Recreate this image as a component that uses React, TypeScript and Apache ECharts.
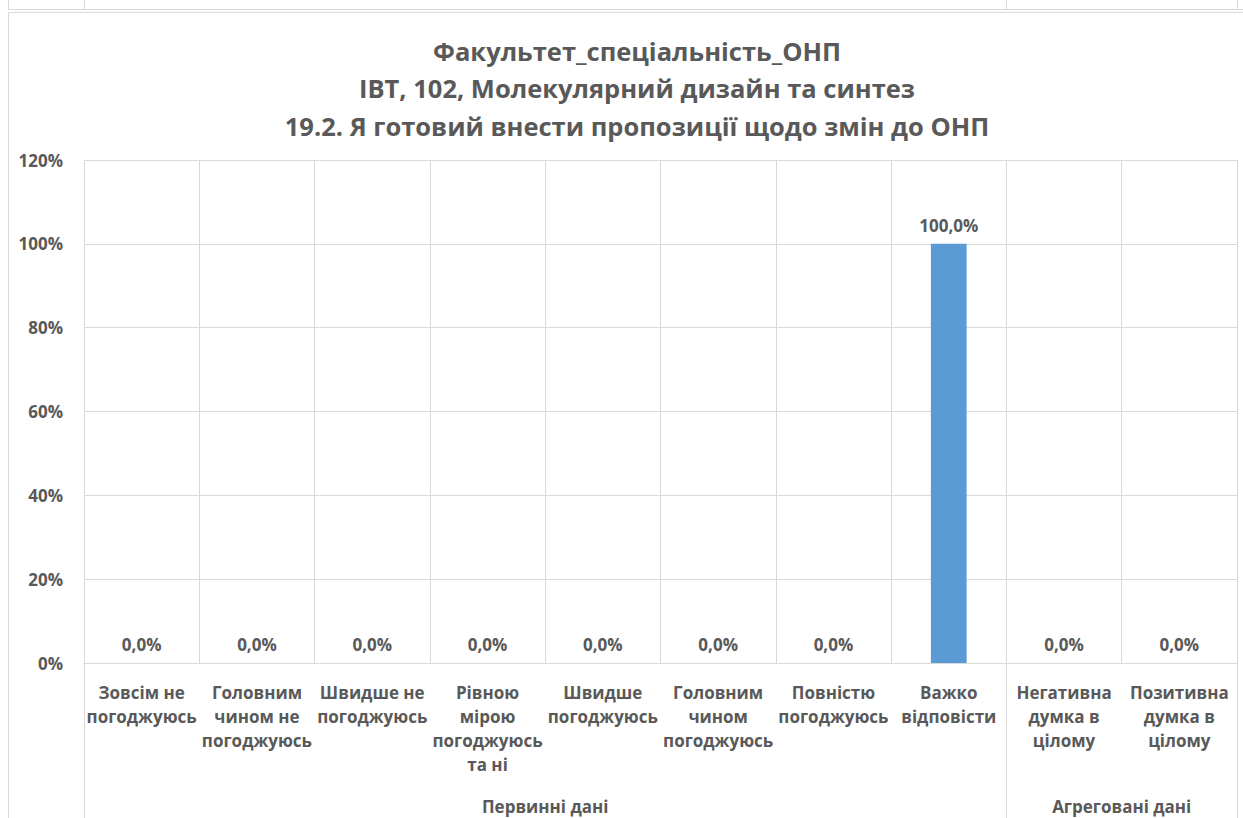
import React, { useEffect, useRef } from 'react';
import * as echarts from 'echarts';

const titleLines = [
  'Факультет_спеціальність_ОНП',
  'ІВТ, 102, Молекулярний дизайн та синтез',
  '19.2. Я готовий внести пропозиції щодо змін до ОНП',
];

const categories = [
  'Зовсім не\nпогоджуюсь',
  'Головним\nчином не\nпогоджуюсь',
  'Швидше не\nпогоджуюсь',
  'Рівною\nмірою\nпогоджуюсь\nта ні',
  'Швидше\nпогоджуюсь',
  'Головним\nчином\nпогоджуюсь',
  'Повністю\nпогоджуюсь',
  'Важко\nвідповісти',
  'Негативна\nдумка в\nцілому',
  'Позитивна\nдумка в\nцілому',
];

const values = [0, 0, 0, 0, 0, 0, 0, 100, 0, 0];

const groupNames = ['Первинні дані', 'Агреговані дані'];
const groupSizes = [8, 2];

const yMin = 0;
const yMax = 120;
const yInterval = 20;

const FONT = '"Open Sans", "Noto Sans", sans-serif';
const TEXT = '#595959';
const GRID = '#d9d9d9';
const BAR = '#5b9bd5';
const FS = 17;

export default function App() {
  const ref = useRef<HTMLDivElement>(null);
  useEffect(() => {
    const chart = echarts.init(ref.current!, null, { renderer: 'svg' });
    chart.setOption({
      animation: false,
      backgroundColor: '#ffffff',
      title: {
        text: titleLines.join('\n'),
        left: 632,
        top: 27,
        textAlign: 'center',
        textStyle: {
          fontFamily: FONT,
          fontSize: 25.5,
          fontWeight: 'bold',
          color: TEXT,
          lineHeight: 37.5,
        },
      },
      grid: { left: 84, right: 6, top: 160, bottom: 155, containLabel: false },
      xAxis: {
        type: 'category',
        data: categories,
        axisLine: { show: true, lineStyle: { color: GRID, width: 1 } },
        axisTick: { show: false },
        splitLine: { show: true, interval: 0, lineStyle: { color: GRID, width: 1 } },
        axisLabel: {
          interval: 0,
          margin: 17,
          fontFamily: FONT,
          fontSize: FS,
          fontWeight: 'bold',
          color: TEXT,
          lineHeight: 24,
        },
      },
      yAxis: {
        type: 'value',
        min: yMin,
        max: yMax,
        interval: yInterval,
        axisLine: { show: false },
        axisTick: { show: false },
        splitLine: { show: true, lineStyle: { color: GRID, width: 1 } },
        axisLabel: {
          margin: 21,
          fontFamily: FONT,
          fontSize: FS,
          fontWeight: 'bold',
          color: TEXT,
          formatter: (v: number) => `${v}%`,
        },
      },
      series: [
        {
          type: 'bar',
          data: values,
          barWidth: '31%',
          itemStyle: { color: BAR },
          label: {
            show: true,
            position: 'top',
            distance: 10,
            fontFamily: FONT,
            fontSize: FS,
            fontWeight: 'bold',
            color: TEXT,
            formatter: (p: any) => `${Number(p.value).toFixed(1).replace('.', ',')}%`,
          },
        },
      ],
    });

    const c0 = chart.convertToPixel({ xAxisIndex: 0 }, 0) as number;
    const c1 = chart.convertToPixel({ xAxisIndex: 0 }, 1) as number;
    const band = c1 - c0;
    const leftEdge = c0 - band / 2;
    const axisY = chart.convertToPixel({ yAxisIndex: 0 }, 0) as number;

    const boundaries: number[] = [leftEdge];
    let acc = 0;
    groupSizes.forEach((s) => {
      acc += s;
      boundaries.push(leftEdge + acc * band);
    });

    const graphics: any[] = [];
    graphics.push({
      type: 'rect',
      shape: { x: 8.5, y: 12.5, width: 1400, height: 1000 },
      style: { fill: 'none', stroke: GRID, lineWidth: 1 },
      silent: true,
    });
    graphics.push({
      type: 'line',
      shape: { x1: 8, y1: 9.5, x2: 1243, y2: 9.5 },
      style: { stroke: GRID, lineWidth: 1 },
      silent: true,
    });
    [8.5, ...boundaries.map((b) => Math.round(b) + 0.5)].forEach((x) => {
      graphics.push({
        type: 'line',
        shape: { x1: x, y1: 0, x2: x, y2: 9 },
        style: { stroke: GRID, lineWidth: 1 },
        silent: true,
      });
    });
    boundaries.forEach((b) => {
      const x = Math.round(b) + 0.5;
      graphics.push({
        type: 'line',
        shape: { x1: x, y1: axisY, x2: x, y2: 818 },
        style: { stroke: GRID, lineWidth: 1 },
        silent: true,
      });
    });
    groupNames.forEach((name, i) => {
      const cx = (boundaries[i] + boundaries[i + 1]) / 2;
      graphics.push({
        type: 'text',
        x: cx,
        y: 806,
        style: {
          text: name,
          fontFamily: FONT,
          fontSize: FS,
          fontWeight: 'bold',
          fill: TEXT,
          align: 'center',
          verticalAlign: 'middle',
        },
        silent: true,
      });
    });
    chart.setOption({ graphic: graphics });

    return () => chart.dispose();
  }, []);
  return (
    <div
      ref={ref}
      style={{ position: 'absolute', left: 0, top: 0, width: 1243, height: 818 }}
    />
  );
}
